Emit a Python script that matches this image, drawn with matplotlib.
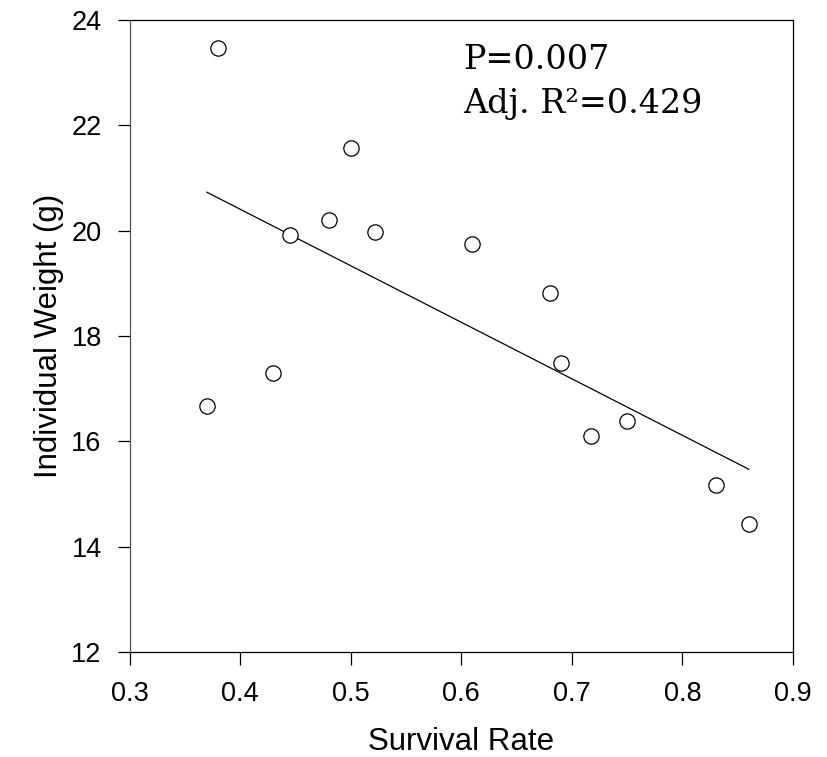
import matplotlib
matplotlib.use("Agg")
import matplotlib.pyplot as plt

survival = [0.38, 0.50, 0.48, 0.445, 0.522, 0.61, 0.68, 0.69, 0.43, 0.37, 0.717, 0.75, 0.83, 0.86]
weight = [23.47, 21.57, 20.20, 19.92, 19.97, 19.75, 18.82, 17.49, 17.29, 16.68, 16.11, 16.38, 15.17, 14.43]
fit_x = [0.37, 0.86]
fit_y = [20.73, 15.47]
xticks = [0.3, 0.4, 0.5, 0.6, 0.7, 0.8, 0.9]
yticks = [12, 14, 16, 18, 20, 22, 24]
stat_lines = ["P=0.007", "Adj. R²=0.429"]

plt.rcParams['font.family'] = ['Liberation Sans', 'DejaVu Sans']
fig = plt.figure(figsize=(8.27, 7.57), dpi=100)
ax = fig.add_axes([129.5/827, 1-652/757, (793-129.5)/827, (652-20)/757])

ax.plot(fit_x, fit_y, color='black', lw=0.9)
ax.plot(survival, weight, linestyle='none', marker='o', markersize=11,
        markerfacecolor='white', markeredgecolor='black', markeredgewidth=0.9)

ax.set_xlim(0.3, 0.9)
ax.set_ylim(12, 24)
ax.set_xticks(xticks)
ax.set_xticklabels([f"{v:.1f}" for v in xticks])
ax.set_yticks(yticks)
ax.set_yticklabels([str(v) for v in yticks])
ax.tick_params(direction='out', length=9, width=0.9, labelsize=19.5, colors='black')
ax.tick_params(axis='y', pad=11)
ax.tick_params(axis='x', pad=12)
for s in ax.spines.values():
    s.set_linewidth(0.9)
ax.spines['left'].set_color('#555555')

ax.set_xlabel("Survival Rate", fontsize=22.5, labelpad=14)
ax.set_ylabel("Individual Weight (g)", fontsize=22.5, labelpad=5)

ax.text(0.602, 23.24, stat_lines[0], fontsize=24, family='DejaVu Serif', va='center', ha='left')
ax.text(0.602, 22.40, stat_lines[1], fontsize=24, family='DejaVu Serif', va='center', ha='left')

fig.savefig("out.png", dpi=100)
